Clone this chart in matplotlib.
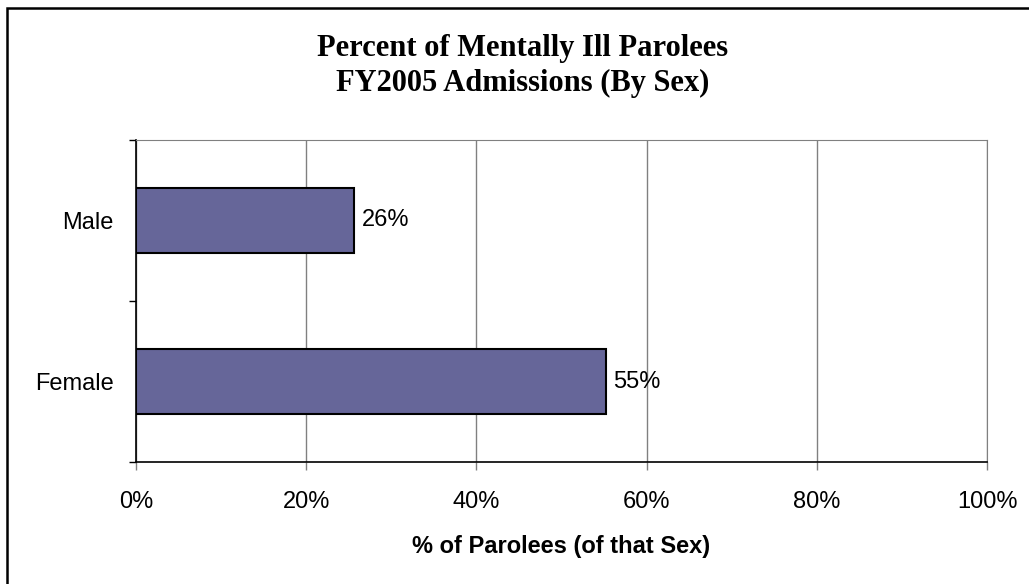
import matplotlib.pyplot as plt
from matplotlib.patches import Rectangle
from matplotlib.ticker import PercentFormatter

# Data
categories = ['Female', 'Male']
percents = [55.2, 25.6]
labels = ['55%', '26%']

fig = plt.figure(figsize=(10.29, 5.84), dpi=100)
ax = fig.add_axes([136/1029, 1 - 462/584, 851/1029, 322/584])

ypos = range(len(categories))
ax.barh(ypos, percents, height=0.4, color='#666699', edgecolor='black', linewidth=1.5, zorder=3)
for y, v, lab in zip(ypos, percents, labels):
	ax.text(v + 0.9, y, lab, ha='left', va='center', fontsize=17, family='Liberation Sans', zorder=4)

ax.set_xlim(0, 100)
ax.set_ylim(-0.5, 1.5)
ax.set_xticks([0, 20, 40, 60, 80, 100])
ax.xaxis.set_major_formatter(PercentFormatter(decimals=0))
ax.set_yticks([-0.5, 0.5, 1.5])
ax.set_yticklabels([])
ax.set_yticks(list(ypos), minor=True)
ax.set_yticklabels(categories, minor=True)
ax.tick_params(axis='y', which='minor', length=0, pad=16, labelsize=17)
ax.tick_params(axis='y', which='major', length=5, width=1, color='black', direction='out')
ax.tick_params(axis='x', length=6, width=1, color='#808080', direction='out', pad=15, labelsize=17)
for t in ax.get_xticklabels() + ax.get_yticklabels(minor=True):
	t.set_family('Liberation Sans')

ax.grid(axis='x', color='#808080', linewidth=1, zorder=0)
ax.spines['left'].set_color('black')
ax.spines['bottom'].set_color('black')
ax.spines['left'].set_linewidth(1.2)
ax.spines['bottom'].set_linewidth(1.2)
ax.spines['top'].set_color('#808080')
ax.spines['right'].set_color('#808080')

ax.set_xlabel('% of Parolees (of that Sex)', fontsize=17, fontweight='bold', family='Liberation Sans', labelpad=16)
fig.text(523/1029, 1 - 66/584, 'Percent of Mentally Ill Parolees\nFY2005 Admissions (By Sex)',
	ha='center', va='center', fontsize=22, fontweight='bold', family='Liberation Serif', linespacing=1.25)

# Outer chart border (only left and top edges fall inside the image)
fig.add_artist(Rectangle((7/1029, -0.05), 1.1, 1 - 8/584 + 0.05, transform=fig.transFigure,
	fill=False, edgecolor='black', linewidth=1.8, clip_on=False))

plt.savefig('out.png', dpi=100)
